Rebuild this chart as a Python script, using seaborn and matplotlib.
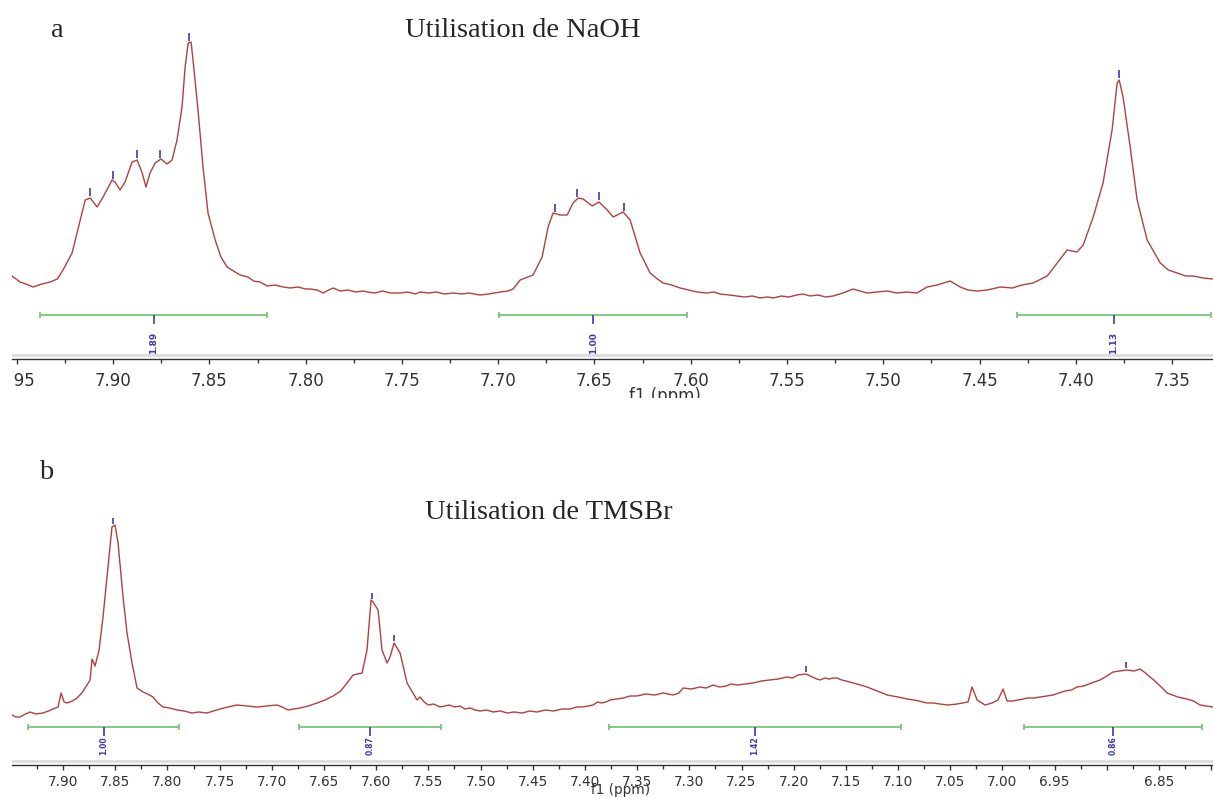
import numpy as np
import pandas as pd
import seaborn as sns
import matplotlib.pyplot as plt
from matplotlib.ticker import MultipleLocator, FuncFormatter
from matplotlib.patches import Rectangle
from matplotlib.transforms import Bbox, TransformedBbox

sns.set_style("white")
plt.rcParams['font.family'] = ['DejaVu Sans']

# --- spectrum a : Utilisation de NaOH (ppm / intensity, arbitrary units) ---
a_ppm = [7.9525, 7.9483, 7.9440, 7.9415, 7.9370, 7.9327, 7.9290, 7.9260, 7.9213, 7.9171,
         7.9145, 7.9119, 7.9083, 7.9052, 7.9005, 7.8990, 7.8964, 7.8938, 7.8901, 7.8875,
         7.8849, 7.8829, 7.8808, 7.8782, 7.8751, 7.8720, 7.8694, 7.8668, 7.8642, 7.8626,
         7.8610, 7.8595, 7.8585, 7.8559, 7.8533, 7.8507, 7.8470, 7.8440, 7.8408, 7.8375,
         7.8340, 7.8300, 7.8270, 7.8237, 7.8200, 7.8160, 7.8117, 7.8080, 7.8040, 7.8000,
         7.7977, 7.7940, 7.7909, 7.7880, 7.7857, 7.7820, 7.7780, 7.7740, 7.7700, 7.7681,
         7.7640, 7.7600, 7.7560, 7.7509, 7.7470, 7.7430, 7.7406, 7.7360, 7.7320, 7.7280,
         7.7234, 7.7190, 7.7150, 7.7094, 7.7050, 7.6990, 7.6950, 7.6923, 7.6886, 7.6819,
         7.6772, 7.6741, 7.6715, 7.6679, 7.6642, 7.6611, 7.6585, 7.6559, 7.6512, 7.6476,
         7.6434, 7.6403, 7.6351, 7.6315, 7.6263, 7.6211, 7.6180, 7.6144, 7.6100, 7.6055,
         7.6010, 7.5967, 7.5920, 7.5880, 7.5848, 7.5800, 7.5759, 7.5720, 7.5680, 7.5640,
         7.5600, 7.5572, 7.5530, 7.5490, 7.5450, 7.5417, 7.5380, 7.5340, 7.5300, 7.5261,
         7.5210, 7.5157, 7.5120, 7.5084, 7.5030, 7.4980, 7.4930, 7.4880, 7.4825, 7.4773,
         7.4720, 7.4653, 7.4601, 7.4560, 7.4513, 7.4460, 7.4393, 7.4330, 7.4280, 7.4222,
         7.4149, 7.4097, 7.4046, 7.3994, 7.3962, 7.3910, 7.3859, 7.3812, 7.3786, 7.3775,
         7.3755, 7.3718, 7.3682, 7.3630, 7.3562, 7.3520, 7.3474, 7.3430, 7.3391, 7.3340,
         7.3287]
a_int = [19, 13, 10, 8, 11, 13, 16, 25, 42, 75,
         95, 97, 88, 98, 115, 113, 105, 113, 133, 135,
         122, 108, 122, 132, 136, 131, 135, 155, 188, 228,
         252, 253, 235, 185, 128, 82, 55, 38, 28, 24,
         20, 18, 14, 13, 9, 10, 8, 7, 8, 6,
         6, 5, 2, 5, 7, 4, 5, 3, 4, 3,
         2, 4, 2, 2, 3, 1, 3, 2, 3, 1,
         2, 1, 2, 0, 1, 3, 4, 6, 15, 20,
         38, 68, 82, 80, 80, 92, 97, 96, 89, 93,
         85, 78, 83, 75, 42, 22, 17, 12, 10, 7,
         5, 3, 2, 3, 1, 0, -1, -2, -1, -3,
         -2, -3, -1, -2, 0, 1, -1, 0, -2, -1,
         2, 6, 4, 2, 3, 4, 2, 3, 2, 8,
         10, 14, 8, 5, 4, 5, 8, 7, 10, 12,
         19, 32, 45, 43, 50, 78, 112, 165, 212, 215,
         198, 148, 95, 55, 32, 25, 22, 19, 19, 17,
         16]
a_peaks = [7.9119, 7.9000, 7.8875, 7.8756, 7.8605, 7.6704, 7.6590, 7.6476, 7.6346, 7.3775]
a_int_start = [7.9379, 7.6995, 7.4305]
a_int_end = [7.8200, 7.6019, 7.3300]
a_int_labels = ['1.89', '1.00', '1.13']

# --- spectrum b : Utilisation de TMSBr ---
b_ppm = [7.9489, 7.9450, 7.9412, 7.9360, 7.9316, 7.9260, 7.9192, 7.9140, 7.9096, 7.9048,
         7.9019, 7.8990, 7.8962, 7.8910, 7.8866, 7.8820, 7.8789, 7.8741, 7.8722, 7.8693,
         7.8655, 7.8617, 7.8569, 7.8531, 7.8502, 7.8473, 7.8425, 7.8387, 7.8339, 7.8291,
         7.8234, 7.8190, 7.8138, 7.8090, 7.8042, 7.7980, 7.7908, 7.7840, 7.7764, 7.7700,
         7.7620, 7.7560, 7.7496, 7.7420, 7.7333, 7.7240, 7.7141, 7.7050, 7.6950, 7.6900,
         7.6844, 7.6790, 7.6729, 7.6650, 7.6567, 7.6490, 7.6413, 7.6340, 7.6279, 7.6222,
         7.6135, 7.6088, 7.6049, 7.6030, 7.5982, 7.5944, 7.5896, 7.5867, 7.5829, 7.5771,
         7.5704, 7.5609, 7.5580, 7.5540, 7.5500, 7.5450, 7.5388, 7.5340, 7.5300, 7.5250,
         7.5197, 7.5150, 7.5100, 7.5050, 7.5005, 7.4940, 7.4880, 7.4810, 7.4746, 7.4680,
         7.4600, 7.4530, 7.4459, 7.4380, 7.4300, 7.4220, 7.4143, 7.4080, 7.4030, 7.3970,
         7.3922, 7.3880, 7.3840, 7.3800, 7.3759, 7.3700, 7.3630, 7.3570, 7.3501, 7.3420,
         7.3330, 7.3250, 7.3156, 7.3100, 7.3060, 7.2980, 7.2900, 7.2840, 7.2773, 7.2710,
         7.2650, 7.2600, 7.2543, 7.2460, 7.2389, 7.2310, 7.2227, 7.2150, 7.2064, 7.2010,
         7.1960, 7.1882, 7.1820, 7.1780, 7.1748, 7.1700, 7.1660, 7.1620, 7.1585, 7.1540,
         7.1500, 7.1431, 7.1360, 7.1297, 7.1250, 7.1200, 7.1150, 7.1106, 7.1000, 7.0914,
         7.0850, 7.0800, 7.0722, 7.0660, 7.0600, 7.0520, 7.0435, 7.0380, 7.0330, 7.0291,
         7.0243, 7.0167, 7.0100, 7.0042, 6.9994, 6.9956, 6.9900, 6.9850, 6.9800, 6.9764,
         6.9700, 6.9640, 6.9580, 6.9515, 6.9460, 6.9400, 6.9340, 6.9286, 6.9220, 6.9170,
         6.9120, 6.9065, 6.9000, 6.8941, 6.8880, 6.8807, 6.8740, 6.8682, 6.8630, 6.8586,
         6.8540, 6.8500, 6.8460, 6.8423, 6.8370, 6.8320, 6.8280, 6.8232, 6.8170, 6.8107,
         6.8050, 6.7983]
b_int = [0, -2, -2, 1, 3, 1, 2, 4, 6, 8,
         22, 13, 12, 14, 17, 22, 27, 35, 56, 49,
         65, 98, 148, 188, 190, 172, 118, 82, 52, 27,
         23, 21, 18, 12, 8, 7, 5, 4, 2, 3,
         2, 4, 6, 8, 10, 9, 8, 9, 10, 8,
         5, 6, 7, 9, 12, 15, 19, 24, 32, 40,
         42, 65, 115, 113, 105, 65, 52, 58, 72, 62,
         32, 15, 18, 13, 10, 11, 8, 9, 10, 8,
         9, 6, 7, 5, 4, 5, 3, 4, 2, 3,
         2, 4, 3, 5, 4, 6, 6, 8, 8, 9,
         10, 13, 12, 13, 15, 16, 17, 19, 19, 21,
         20, 22, 20, 22, 27, 26, 28, 27, 30, 28,
         29, 31, 30, 31, 32, 34, 35, 36, 38, 37,
         40, 41, 38, 36, 35, 37, 36, 37, 37, 35,
         34, 32, 30, 28, 26, 24, 22, 20, 18, 16,
         15, 14, 12, 12, 11, 10, 11, 12, 13, 28,
         15, 10, 12, 15, 26, 14, 14, 15, 16, 17,
         17, 18, 19, 20, 22, 24, 25, 28, 29, 31,
         33, 35, 39, 43, 44, 45, 44, 46, 42, 38,
         34, 30, 26, 22, 20, 18, 17, 16, 14, 10,
         9, 8]
b_peaks = [7.8521, 7.6040, 7.5829, 7.1882, 6.8816]
b_int_start = [7.9335, 7.6739, 7.3769, 6.9793]
b_int_end = [7.7889, 7.5379, 7.0972, 6.8088]
b_int_labels = ['1.00', '0.87', '1.42', '0.86']

W, H = 1213, 798
RED = '#b2403c'
BLUE = '#3b3bb0'
GREEN = '#6cc46c'
AXC = '#333333'

fig = plt.figure(figsize=(W / 100, H / 100), dpi=100)
ax_a = fig.add_axes([12 / W, 1 - 359 / H, 1201 / W, 334 / H])
ax_b = fig.add_axes([12 / W, 1 - 765 / H, 1201 / W, 285 / H])


def draw_panel(ax, ppm, inten, peaks, i_start, i_end, i_labels, xlim, ylim,
               bar_y, tick_len, lab_y, lab_size, mark_h, tick_size, pad, hide=()):
    df = pd.DataFrame({'ppm': ppm, 'intensity': inten})
    sns.lineplot(data=df, x='ppm', y='intensity', ax=ax, color=RED, linewidth=1.0,
                 estimator=None, sort=False)
    # peak picking marks
    pk_h = np.interp(peaks, df['ppm'][::-1], df['intensity'][::-1])
    ax.vlines(peaks, pk_h + 2, pk_h + 2 + mark_h, color=BLUE, linewidth=1.2)
    # integration bars
    for s, e, lab in zip(i_start, i_end, i_labels):
        mid = (s + e) / 2
        ax.hlines(bar_y, s, e, color=GREEN, linewidth=1.2)
        ax.vlines([s, e], bar_y - 3, bar_y + 3, color=GREEN, linewidth=1.2)
        ax.vlines(mid, bar_y - tick_len, bar_y, color=BLUE, linewidth=1.2)
        ax.text(mid, lab_y, lab, rotation=90, ha='center', va='center', color=BLUE,
                fontsize=lab_size, fontweight='bold')
    ax.set_xlim(*xlim)
    ax.set_ylim(*ylim)
    ax.axhline(ylim[0] + 4, color='#dcdcdc', linewidth=2)
    ax.set_xlabel('')
    ax.set_ylabel('')
    ax.set_yticks([])
    for sp in ['left', 'right', 'top']:
        ax.spines[sp].set_visible(False)
    ax.spines['bottom'].set_color(AXC)
    ax.spines['bottom'].set_linewidth(1.0)
    ax.xaxis.set_major_locator(MultipleLocator(0.05))
    ax.xaxis.set_minor_locator(MultipleLocator(0.025))
    ax.xaxis.set_major_formatter(FuncFormatter(
        lambda v, p: '' if any(abs(v - h) < 1e-6 for h in hide) else f'{v:.2f}'))
    ax.tick_params(axis='x', which='both', direction='out', length=3.5, width=1.0,
                   color=AXC, labelcolor=AXC, labelsize=tick_size, pad=pad, bottom=True)
    ax.tick_params(axis='x', which='minor', length=3)


draw_panel(ax_a, a_ppm, a_int, a_peaks, a_int_start, a_int_end, a_int_labels,
           (7.9525, 7.3288), (-64, 270), -20, 9, -48, 6.5, 8, 12, 6)
draw_panel(ax_b, b_ppm, b_int, b_peaks, b_int_start, b_int_end, b_int_labels,
           (7.9489, 6.7983), (-50, 235), -12, 9, -31, 5.5, 6, 9.8, 4, hide=(6.90, 6.80))

# axis labels (the one of panel a is cut by the image border)
fa = fig.text(665 / W, 1 - 387 / H, 'f1 (ppm)', ha='center', va='top', fontsize=12, color=AXC)
fa.set_clip_box(TransformedBbox(Bbox([[0, 1 - 398 / H], [1, 1]]), fig.transFigure))
fa.set_clip_on(True)
fig.text(621 / W, 1 - 783 / H, 'f1 (ppm)', ha='center', va='top', fontsize=9.8, color=AXC)

# left border crops the first tick labels
for y0, h in [(1 - 392 / H, 30 / H), (1 - 790 / H, 24 / H)]:
    fig.patches.append(Rectangle((0, y0), 12 / W, h, transform=fig.transFigure,
                                 facecolor='white', edgecolor='none', zorder=10))

serif = ['Liberation Serif', 'DejaVu Serif']
fig.text(57 / W, 1 - 37 / H, 'a', ha='center', va='baseline', fontsize=20.5, family=serif)
fig.text(523 / W, 1 - 37 / H, 'Utilisation de NaOH', ha='center', va='baseline',
         fontsize=20.5, family=serif)
fig.text(46 / W, 1 - 479 / H, 'b', ha='center', va='baseline', fontsize=20.5, family=serif)
fig.text(549 / W, 1 - 519 / H, 'Utilisation de TMSBr', ha='center', va='baseline',
         fontsize=20.5, family=serif)

fig.savefig('out.png', dpi=100)
